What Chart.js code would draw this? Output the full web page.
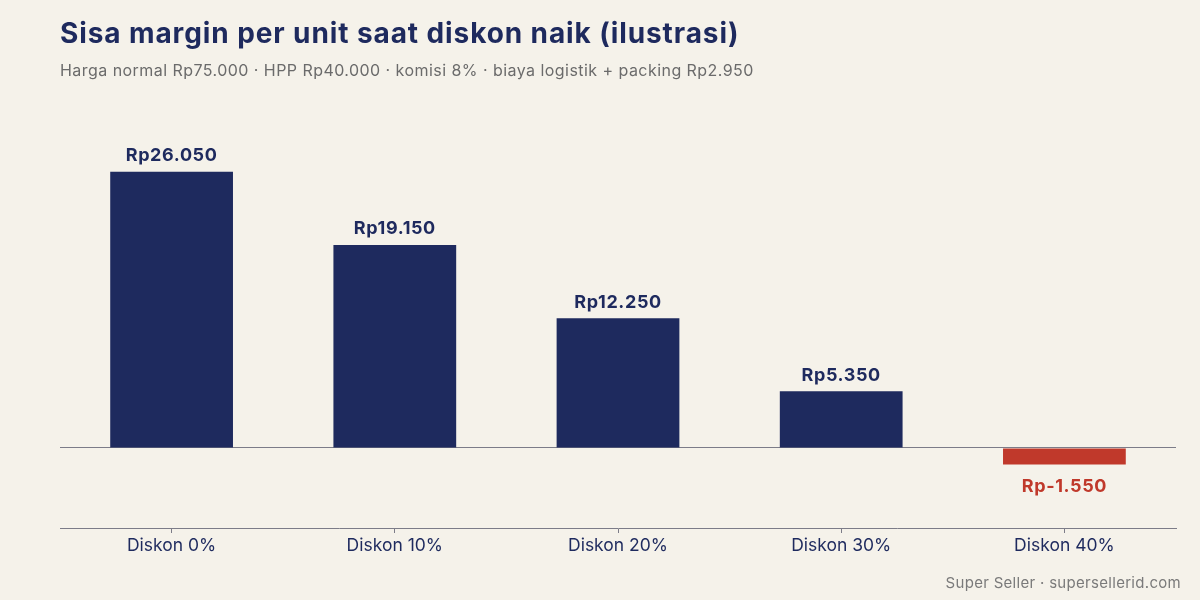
<!DOCTYPE html>
<html>
<head>
<meta charset="utf-8">
<script src="https://cdn.jsdelivr.net/npm/chart.js@4.4.1/dist/chart.umd.min.js"></script>
<style>
  html, body { margin: 0; padding: 0; background: #f5f2ea; }
  #wrap { width: 1200px; height: 600px; position: relative; }
</style>
</head>
<body>
<div id="wrap"><canvas id="marginChart" width="1200" height="600"></canvas></div>
<script>
// data
const categories = ['Diskon 0%', 'Diskon 10%', 'Diskon 20%', 'Diskon 30%', 'Diskon 40%'];
const marginValues = [26050, 19150, 12250, 5350, -1550];

const NAVY = '#1e2a5e';
const RED = '#c0392b';
const GREY_LINE = '#7c7c88';
const FONT = 'Inter, "Noto Sans", sans-serif';

function rupiah(v) {
    const sign = v < 0 ? '-' : '';
    const s = Math.abs(v).toString().replace(/\B(?=(\d{3})+(?!\d))/g, '.');
    return 'Rp' + sign + s;
}

// title, subtitle, footer and value labels
const textPlugin = {
    id: 'textPlugin',
    beforeDraw(chart) {
        const ctx = chart.ctx;
        ctx.save();
        ctx.fillStyle = '#f5f2ea';
        ctx.fillRect(0, 0, chart.width, chart.height);
        ctx.restore();
    },
    afterDraw(chart) {
        const ctx = chart.ctx;
        ctx.save();
        ctx.textAlign = 'left';
        ctx.textBaseline = 'alphabetic';
        ctx.fillStyle = NAVY;
        ctx.font = 'bold 28px ' + FONT;
        ctx.letterSpacing = '0.9px';
        ctx.fillText('Sisa margin per unit saat diskon naik (ilustrasi)', 60, 43);
        ctx.fillStyle = '#6b6b6b';
        ctx.font = '16px ' + FONT;
        ctx.letterSpacing = '0.45px';
        ctx.fillText('Harga normal Rp75.000 · HPP Rp40.000 · komisi 8% · biaya logistik + packing Rp2.950', 60, 76);
        ctx.textAlign = 'right';
        ctx.fillStyle = '#7a7a7a';
        ctx.font = '15px ' + FONT;
        ctx.letterSpacing = '0.3px';
        ctx.fillText('Super Seller · supersellerid.com', 1181, 588);
        ctx.restore();
    },
    afterDatasetsDraw(chart) {
        const ctx = chart.ctx;
        const meta = chart.getDatasetMeta(0);
        ctx.save();
        ctx.font = 'bold 18px ' + FONT;
        ctx.letterSpacing = '0.6px';
        ctx.textAlign = 'center';
        meta.data.forEach((bar, i) => {
            const v = marginValues[i];
            if (v >= 0) {
                ctx.fillStyle = NAVY;
                ctx.textBaseline = 'bottom';
                ctx.fillText(rupiah(v), bar.x, bar.y - 7);
            } else {
                ctx.fillStyle = RED;
                ctx.textBaseline = 'top';
                ctx.fillText(rupiah(v), bar.x, bar.y + 13);
            }
        });
        ctx.restore();
    }
};

const ctx = document.getElementById('marginChart').getContext('2d');
const marginChart = new Chart(ctx, {
    type: 'bar',
    data: {
        labels: categories,
        datasets: [{
            data: marginValues,
            backgroundColor: marginValues.map(v => v < 0 ? RED : NAVY),
            borderWidth: 0,
            barPercentage: 0.55,
            categoryPercentage: 1.0
        }]
    },
    options: {
        responsive: false,
        animation: false,
        layout: {
            padding: { left: 60, right: 24, top: 130, bottom: 42 }
        },
        plugins: {
            legend: { display: false },
            tooltip: { enabled: false },
            title: { display: false }
        },
        scales: {
            x: {
                offset: true,
                grid: {
                    offset: false,
                    drawOnChartArea: false,
                    drawTicks: true,
                    tickLength: 5,
                    color: GREY_LINE
                },
                border: { display: true, color: GREY_LINE, width: 1 },
                ticks: {
                    color: NAVY,
                    padding: 2,
                    font: { family: FONT, size: 17.5 }
                }
            },
            y: {
                min: -7550,
                max: 30000,
                afterBuildTicks(axis) {
                    axis.ticks = [{ value: 0 }];
                },
                ticks: { display: false },
                border: { display: false },
                grid: {
                    drawTicks: false,
                    color: GREY_LINE,
                    lineWidth: 1
                }
            }
        }
    },
    plugins: [textPlugin]
});
</script>
</body>
</html>
